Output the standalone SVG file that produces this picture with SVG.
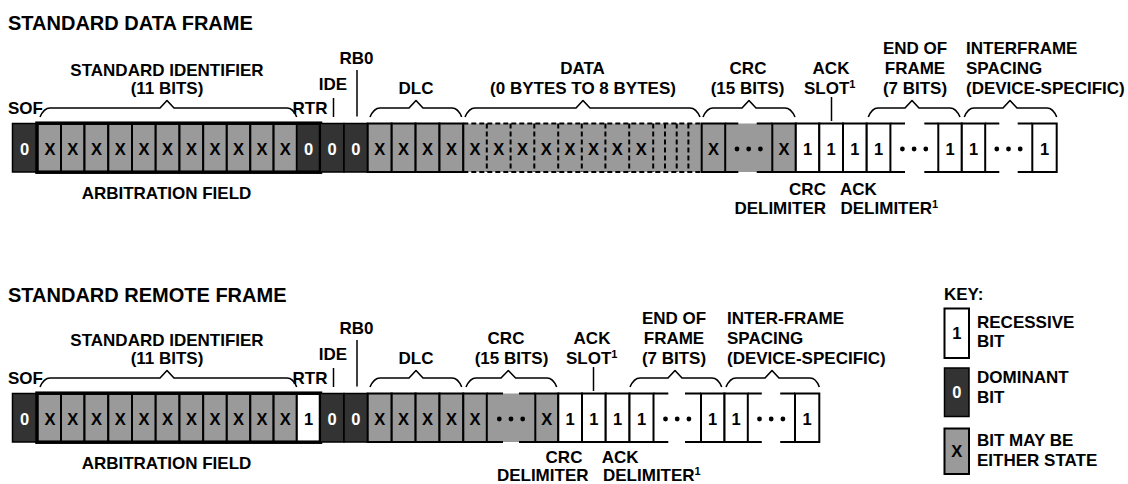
<svg xmlns="http://www.w3.org/2000/svg" width="1128" height="484" viewBox="0 0 1128 484">
<style>
.d{fill:#333;stroke:#000;stroke-width:1.5}
.g{fill:#9a9a9a;stroke:#000;stroke-width:2}
.w{fill:#fff;stroke:#000;stroke-width:2}
.gf{fill:#9a9a9a;stroke:none}
.wf{fill:#fff;stroke:none}
.ln{stroke:#000;stroke-width:2;fill:none}
.dash{stroke:#000;stroke-width:2;fill:none;stroke-dasharray:5 3}
.arb{fill:none;stroke:#000;stroke-width:3.5}
.br{fill:none;stroke:#000;stroke-width:1.6;stroke-linejoin:round}
.tk{stroke:#000;stroke-width:1.5}
text{font-family:"Liberation Sans",Arial,Helvetica,sans-serif;font-weight:bold;fill:#000}
.t{font-size:20px}
.l{font-size:17px}
.m{text-anchor:middle}
.e{text-anchor:end}
.c{font-size:16.5px;text-anchor:middle}
.cw{fill:#fff}
.sup{font-size:11px}
.dot{fill:#000}
</style>

<!-- ===================== STANDARD DATA FRAME ===================== -->
<text class="t" x="8" y="30">STANDARD DATA FRAME</text>

<g id="df-sof">
<rect class="d" x="12.5" y="123.5" width="24.5" height="48.5"/>
<text class="c cw" x="24.5" y="155">0</text>
</g>
<g id="df-identifier">
<rect class="g" x="37" y="123.5" width="24" height="48.5"/>
<rect class="g" x="61" y="123.5" width="23.5" height="48.5"/>
<rect class="g" x="84.5" y="123.5" width="23.8" height="48.5"/>
<rect class="g" x="108.3" y="123.5" width="23.7" height="48.5"/>
<rect class="g" x="132" y="123.5" width="23.7" height="48.5"/>
<rect class="g" x="155.7" y="123.5" width="23.8" height="48.5"/>
<rect class="g" x="179.5" y="123.5" width="23.7" height="48.5"/>
<rect class="g" x="203.2" y="123.5" width="23.6" height="48.5"/>
<rect class="g" x="226.8" y="123.5" width="23.5" height="48.5"/>
<rect class="g" x="250.3" y="123.5" width="23.3" height="48.5"/>
<rect class="g" x="273.6" y="123.5" width="23.2" height="48.5"/>
<text class="c" x="50" y="155">X</text>
<text class="c" x="72.8" y="155">X</text>
<text class="c" x="96.4" y="155">X</text>
<text class="c" x="120.2" y="155">X</text>
<text class="c" x="143.9" y="155">X</text>
<text class="c" x="167.6" y="155">X</text>
<text class="c" x="191.4" y="155">X</text>
<text class="c" x="215" y="155">X</text>
<text class="c" x="238.6" y="155">X</text>
<text class="c" x="262" y="155">X</text>
<text class="c" x="285.2" y="155">X</text>
</g>
<g id="df-rtr">
<rect class="d" x="296.8" y="123.5" width="23.5" height="48.5"/>
<text class="c cw" x="308.6" y="155">0</text>
</g>
<g id="df-arbitration-field">
<rect class="arb" x="37" y="123.2" width="283.5" height="49"/>
<text class="l m" x="166.5" y="199">ARBITRATION FIELD</text>
</g>
<g id="df-ide">
<rect class="d" x="320.3" y="123.5" width="23.7" height="48.5"/>
<text class="c cw" x="332.2" y="155">0</text>
</g>
<g id="df-rb0">
<rect class="d" x="344" y="123.5" width="23.7" height="48.5"/>
<text class="c cw" x="355.9" y="155">0</text>
</g>
<g id="df-dlc">
<rect class="g" x="367.7" y="123.5" width="24" height="48.5"/>
<rect class="g" x="391.7" y="123.5" width="23.9" height="48.5"/>
<rect class="g" x="415.6" y="123.5" width="23.9" height="48.5"/>
<rect class="g" x="439.5" y="123.5" width="23.8" height="48.5"/>
<text class="c" x="379.7" y="155">X</text>
<text class="c" x="403.6" y="155">X</text>
<text class="c" x="427.5" y="155">X</text>
<text class="c" x="451.4" y="155">X</text>
</g>
<g id="df-data">
<rect class="gf" x="463.3" y="123.5" width="238.4" height="48.5"/>
<line class="dash" x1="463.3" y1="123.5" x2="701.7" y2="123.5"/>
<line class="dash" x1="463.3" y1="172" x2="701.7" y2="172"/>
<g class="dash">
<line x1="486.8" y1="123.5" x2="486.8" y2="172"/>
<line x1="510.6" y1="123.5" x2="510.6" y2="172"/>
<line x1="534.3" y1="123.5" x2="534.3" y2="172"/>
<line x1="558.2" y1="123.5" x2="558.2" y2="172"/>
<line x1="581.8" y1="123.5" x2="581.8" y2="172"/>
<line x1="605.4" y1="123.5" x2="605.4" y2="172"/>
<line x1="629.2" y1="123.5" x2="629.2" y2="172"/>
<line x1="653.2" y1="123.5" x2="653.2" y2="172"/>
<line x1="665" y1="123.5" x2="665" y2="172"/>
<line x1="676.7" y1="123.5" x2="676.7" y2="172"/>
<line x1="688.4" y1="123.5" x2="688.4" y2="172"/>
</g>
<line class="ln" x1="463.3" y1="123.5" x2="463.3" y2="172"/>
<text class="c" x="475" y="155">X</text>
<text class="c" x="498.7" y="155">X</text>
<text class="c" x="522.5" y="155">X</text>
<text class="c" x="546.2" y="155">X</text>
<text class="c" x="570" y="155">X</text>
<text class="c" x="593.6" y="155">X</text>
<text class="c" x="617.3" y="155">X</text>
<text class="c" x="641.2" y="155">X</text>
</g>
<g id="df-crc">
<rect class="gf" x="701.7" y="123.5" width="94.1" height="48.5"/>
<rect class="g" x="701.7" y="123.5" width="23.5" height="48.5"/>
<rect class="g" x="772.3" y="123.5" width="23.5" height="48.5"/>
<path class="ln" d="M725.2,123.5H738.3M756.7,123.5H772.3M725.2,172H738.3M756.7,172H772.3"/>
<text class="c" x="713.5" y="155">X</text>
<text class="c" x="784" y="155">X</text>
<circle class="dot" cx="737" cy="149" r="2.4"/>
<circle class="dot" cx="748.7" cy="149" r="2.4"/>
<circle class="dot" cx="760.4" cy="149" r="2.4"/>
</g>
<g id="df-crc-delimiter">
<rect class="w" x="795.8" y="123.5" width="23.5" height="48.5"/>
<text class="c" x="807.6" y="155">1</text>
</g>
<g id="df-ack-slot">
<rect class="w" x="819.3" y="123.5" width="23.7" height="48.5"/>
<text class="c" x="831.2" y="155">1</text>
</g>
<g id="df-ack-delimiter">
<rect class="w" x="843" y="123.5" width="23.7" height="48.5"/>
<text class="c" x="854.9" y="155">1</text>
</g>
<g id="df-end-of-frame">
<rect class="w" x="866.7" y="123.5" width="23.7" height="48.5"/>
<text class="c" x="878.6" y="155">1</text>
<path class="ln" d="M890.4,123.5H905M924.3,123.5H938.3M890.4,172H905M924.3,172H938.3"/>
<circle class="dot" cx="902.4" cy="149" r="2.4"/>
<circle class="dot" cx="914.1" cy="149" r="2.4"/>
<circle class="dot" cx="925.8" cy="149" r="2.4"/>
<rect class="w" x="938.3" y="123.5" width="23.5" height="48.5"/>
<text class="c" x="950" y="155">1</text>
</g>
<g id="df-interframe-spacing">
<rect class="w" x="961.8" y="123.5" width="23.4" height="48.5"/>
<text class="c" x="973.5" y="155">1</text>
<path class="ln" d="M985.2,123.5H999.3M1017.7,123.5H1032.3M985.2,172H999.3M1017.7,172H1032.3"/>
<circle class="dot" cx="996.8" cy="149" r="2.4"/>
<circle class="dot" cx="1008.5" cy="149" r="2.4"/>
<circle class="dot" cx="1020.2" cy="149" r="2.4"/>
<rect class="w" x="1032.3" y="123.5" width="24.4" height="48.5"/>
<text class="c" x="1044.5" y="155">1</text>
</g>

<!-- top labels -->
<g id="df-labels">
<text class="l" x="8" y="113.5">SOF</text>
<text class="l m" x="167" y="76">STANDARD IDENTIFIER</text>
<text class="l m" x="167" y="93.5">(11 BITS)</text>
<text class="l" x="292.5" y="113.5">RTR</text>
<text class="l m" x="333" y="89.5">IDE</text>
<text class="l m" x="356.5" y="63.5">RB0</text>
<text class="l m" x="416" y="93.5">DLC</text>
<text class="l m" x="582.5" y="73.5">DATA</text>
<text class="l m" x="583" y="93.5">(0 BYTES TO 8 BYTES)</text>
<text class="l m" x="748" y="73.5">CRC</text>
<text class="l m" x="747.5" y="93.5">(15 BITS)</text>
<text class="l m" x="831" y="73.5">ACK</text>
<text class="l" x="804" y="93.5">SLOT<tspan class="sup" dy="-6">1</tspan></text>
<text class="l m" x="915" y="53.5">END OF</text>
<text class="l m" x="915" y="73.5">FRAME</text>
<text class="l m" x="915" y="93.5">(7 BITS)</text>
<text class="l" x="966" y="53.5">INTERFRAME</text>
<text class="l" x="966" y="73.5">SPACING</text>
<text class="l" x="966" y="93.5">(DEVICE-SPECIFIC)</text>
<text class="l m" x="807.5" y="195">CRC</text>
<text class="l e" x="826" y="213.5">DELIMITER</text>
<text class="l" x="840" y="195">ACK</text>
<text class="l" x="840.5" y="213.5">DELIMITER<tspan class="sup" dy="-6">1</tspan></text>
</g>

<!-- ===================== STANDARD REMOTE FRAME ===================== -->
<text class="t" x="8" y="302.3">STANDARD REMOTE FRAME</text>

<g id="rf-sof">
<rect class="d" x="12.5" y="393.5" width="24.5" height="48.5"/>
<text class="c cw" x="24.5" y="425">0</text>
</g>
<g id="rf-identifier">
<rect class="g" x="37" y="393.5" width="24" height="48.5"/>
<rect class="g" x="61" y="393.5" width="23.5" height="48.5"/>
<rect class="g" x="84.5" y="393.5" width="23.8" height="48.5"/>
<rect class="g" x="108.3" y="393.5" width="23.7" height="48.5"/>
<rect class="g" x="132" y="393.5" width="23.7" height="48.5"/>
<rect class="g" x="155.7" y="393.5" width="23.8" height="48.5"/>
<rect class="g" x="179.5" y="393.5" width="23.7" height="48.5"/>
<rect class="g" x="203.2" y="393.5" width="23.6" height="48.5"/>
<rect class="g" x="226.8" y="393.5" width="23.5" height="48.5"/>
<rect class="g" x="250.3" y="393.5" width="23.3" height="48.5"/>
<rect class="g" x="273.6" y="393.5" width="23.2" height="48.5"/>
<text class="c" x="50" y="425">X</text>
<text class="c" x="72.8" y="425">X</text>
<text class="c" x="96.4" y="425">X</text>
<text class="c" x="120.2" y="425">X</text>
<text class="c" x="143.9" y="425">X</text>
<text class="c" x="167.6" y="425">X</text>
<text class="c" x="191.4" y="425">X</text>
<text class="c" x="215" y="425">X</text>
<text class="c" x="238.6" y="425">X</text>
<text class="c" x="262" y="425">X</text>
<text class="c" x="285.2" y="425">X</text>
</g>
<g id="rf-rtr">
<rect class="w" x="296.8" y="393.5" width="23.5" height="48.5"/>
<text class="c" x="308.6" y="425">1</text>
</g>
<g id="rf-arbitration-field">
<rect class="arb" x="37" y="393.2" width="283.5" height="49"/>
<text class="l m" x="166.5" y="469">ARBITRATION FIELD</text>
</g>
<g id="rf-ide">
<rect class="d" x="320.3" y="393.5" width="23.7" height="48.5"/>
<text class="c cw" x="332.2" y="425">0</text>
</g>
<g id="rf-rb0">
<rect class="d" x="344" y="393.5" width="23.7" height="48.5"/>
<text class="c cw" x="355.9" y="425">0</text>
</g>
<g id="rf-dlc">
<rect class="g" x="367.7" y="393.5" width="24" height="48.5"/>
<rect class="g" x="391.7" y="393.5" width="23.9" height="48.5"/>
<rect class="g" x="415.6" y="393.5" width="23.9" height="48.5"/>
<rect class="g" x="439.5" y="393.5" width="23.8" height="48.5"/>
<text class="c" x="379.7" y="425">X</text>
<text class="c" x="403.6" y="425">X</text>
<text class="c" x="427.5" y="425">X</text>
<text class="c" x="451.4" y="425">X</text>
</g>
<g id="rf-crc">
<rect class="gf" x="463.3" y="393.5" width="95" height="48.5"/>
<rect class="g" x="463.3" y="393.5" width="23.5" height="48.5"/>
<rect class="g" x="535.3" y="393.5" width="23" height="48.5"/>
<path class="ln" d="M486.8,393.5H503M519,393.5H535.3M486.8,442H503M519,442H535.3"/>
<text class="c" x="475" y="425">X</text>
<text class="c" x="546.8" y="425">X</text>
<circle class="dot" cx="499.3" cy="419" r="2.4"/>
<circle class="dot" cx="511" cy="419" r="2.4"/>
<circle class="dot" cx="522.7" cy="419" r="2.4"/>
</g>
<g id="rf-crc-delimiter">
<rect class="w" x="558.3" y="393.5" width="23.7" height="48.5"/>
<text class="c" x="570.1" y="425">1</text>
</g>
<g id="rf-ack-slot">
<rect class="w" x="582" y="393.5" width="23.7" height="48.5"/>
<text class="c" x="593.8" y="425">1</text>
</g>
<g id="rf-ack-delimiter">
<rect class="w" x="605.7" y="393.5" width="23.8" height="48.5"/>
<text class="c" x="617.6" y="425">1</text>
</g>
<g id="rf-end-of-frame">
<rect class="w" x="629.5" y="393.5" width="24" height="48.5"/>
<text class="c" x="641.5" y="425">1</text>
<path class="ln" d="M653.5,393.5H668.3M685,393.5H701M653.5,442H668.3M685,442H701"/>
<circle class="dot" cx="665.5" cy="419" r="2.4"/>
<circle class="dot" cx="677.2" cy="419" r="2.4"/>
<circle class="dot" cx="688.9" cy="419" r="2.4"/>
<rect class="w" x="701" y="393.5" width="23.5" height="48.5"/>
<text class="c" x="712.7" y="425">1</text>
</g>
<g id="rf-interframe-spacing">
<rect class="w" x="724.5" y="393.5" width="23.3" height="48.5"/>
<text class="c" x="736.1" y="425">1</text>
<path class="ln" d="M747.8,393.5H761.8M780.2,393.5H795M747.8,442H761.8M780.2,442H795"/>
<circle class="dot" cx="759.5" cy="419" r="2.4"/>
<circle class="dot" cx="771.2" cy="419" r="2.4"/>
<circle class="dot" cx="782.9" cy="419" r="2.4"/>
<rect class="w" x="795" y="393.5" width="24.3" height="48.5"/>
<text class="c" x="807.1" y="425">1</text>
</g>

<g id="rf-labels">
<text class="l" x="8" y="383.5">SOF</text>
<text class="l m" x="167" y="346">STANDARD IDENTIFIER</text>
<text class="l m" x="167" y="363.5">(11 BITS)</text>
<text class="l" x="292.5" y="383.5">RTR</text>
<text class="l m" x="333" y="359.5">IDE</text>
<text class="l m" x="356.5" y="333.5">RB0</text>
<text class="l m" x="416" y="363.5">DLC</text>
<text class="l m" x="506" y="343.5">CRC</text>
<text class="l m" x="511.5" y="363.5">(15 BITS)</text>
<text class="l m" x="592" y="343.5">ACK</text>
<text class="l" x="566" y="363.5">SLOT<tspan class="sup" dy="-6">1</tspan></text>
<text class="l m" x="674" y="323.5">END OF</text>
<text class="l m" x="674" y="343.5">FRAME</text>
<text class="l m" x="674" y="363.5">(7 BITS)</text>
<text class="l" x="727" y="323.5">INTER-FRAME</text>
<text class="l" x="727" y="343.5">SPACING</text>
<text class="l" x="727" y="363.5">(DEVICE-SPECIFIC)</text>
<text class="l m" x="564" y="463">CRC</text>
<text class="l e" x="588.5" y="480.5">DELIMITER</text>
<text class="l" x="601.7" y="463">ACK</text>
<text class="l" x="603" y="480.5">DELIMITER<tspan class="sup" dy="-6">1</tspan></text>
</g>

<!-- ===================== CONNECTORS (braces, ticks) ===================== -->
<g id="connectors">
<path class="br" d="M40,117 Q44,108 50,108 H160 L167,100.5 L174,108 H287 Q293,108 296.7,117"/>
<path class="br" d="M370,117 Q374,108 380,108 H409 L416,100.5 L423,108 H452 Q458,108 461.7,117"/>
<path class="br" d="M465,117 Q469,108 475,108 H576 L583,100.5 L590,108 H690 Q696,108 700,117"/>
<path class="br" d="M703,117 Q707,108 713,108 H742 L749,100.5 L756,108 H785 Q791,108 795,117"/>
<path class="br" d="M868.3,117 Q872,108 878,108 H905 L912,100.5 L919,108 H950 Q956,108 960,117"/>
<path class="br" d="M964.3,117 Q968,108 974,108 H1003 L1010,100.5 L1017,108 H1047 Q1053,108 1056.7,117"/>
<line class="tk" x1="333.5" y1="98" x2="333.5" y2="117"/>
<line class="tk" x1="357" y1="70" x2="357" y2="116.5"/>
<line class="tk" x1="831.5" y1="97" x2="831.5" y2="121"/>

<path class="br" d="M40,387 Q44,378 50,378 H160 L167,370.5 L174,378 H287 Q293,378 296.7,387"/>
<path class="br" d="M370,387 Q374,378 380,378 H409 L416,370.5 L423,378 H452 Q458,378 461.7,387"/>
<path class="br" d="M466,387 Q470,378 476,378 H501 L508.3,370.5 L515.6,378 H547 Q553,378 556.7,387"/>
<path class="br" d="M630,387 Q634,378 640,378 H668 L675,370.5 L682,378 H712 Q718,378 721.7,387"/>
<path class="br" d="M726,387 Q730,378 736,378 H765 L772,370.5 L779,378 H810 Q816,378 819.3,387"/>
<line class="tk" x1="333.5" y1="368" x2="333.5" y2="387"/>
<line class="tk" x1="357" y1="340" x2="357" y2="386.5"/>
<line class="tk" x1="593.5" y1="367" x2="593.5" y2="391"/>
</g>

<!-- ===================== KEY ===================== -->
<g id="key">
<text class="l" x="944" y="300">KEY:</text>
<g id="key-recessive">
<rect class="w" x="944.5" y="308.5" width="24.5" height="49.5"/>
<text class="c" x="956.8" y="338.5">1</text>
<text class="l" x="977" y="327.7">RECESSIVE</text>
<text class="l" x="977" y="346.7">BIT</text>
</g>
<g id="key-dominant">
<rect class="d" x="944.5" y="368" width="24.5" height="48.5"/>
<text class="c cw" x="956.8" y="398">0</text>
<text class="l" x="977" y="383.3">DOMINANT</text>
<text class="l" x="977" y="403.3">BIT</text>
</g>
<g id="key-either">
<rect class="g" x="944.5" y="428.5" width="24.5" height="45.5"/>
<text class="c" x="956.8" y="457">X</text>
<text class="l" x="977" y="445.7">BIT MAY BE</text>
<text class="l" x="977" y="465.7">EITHER STATE</text>
</g>
</g>
</svg>
